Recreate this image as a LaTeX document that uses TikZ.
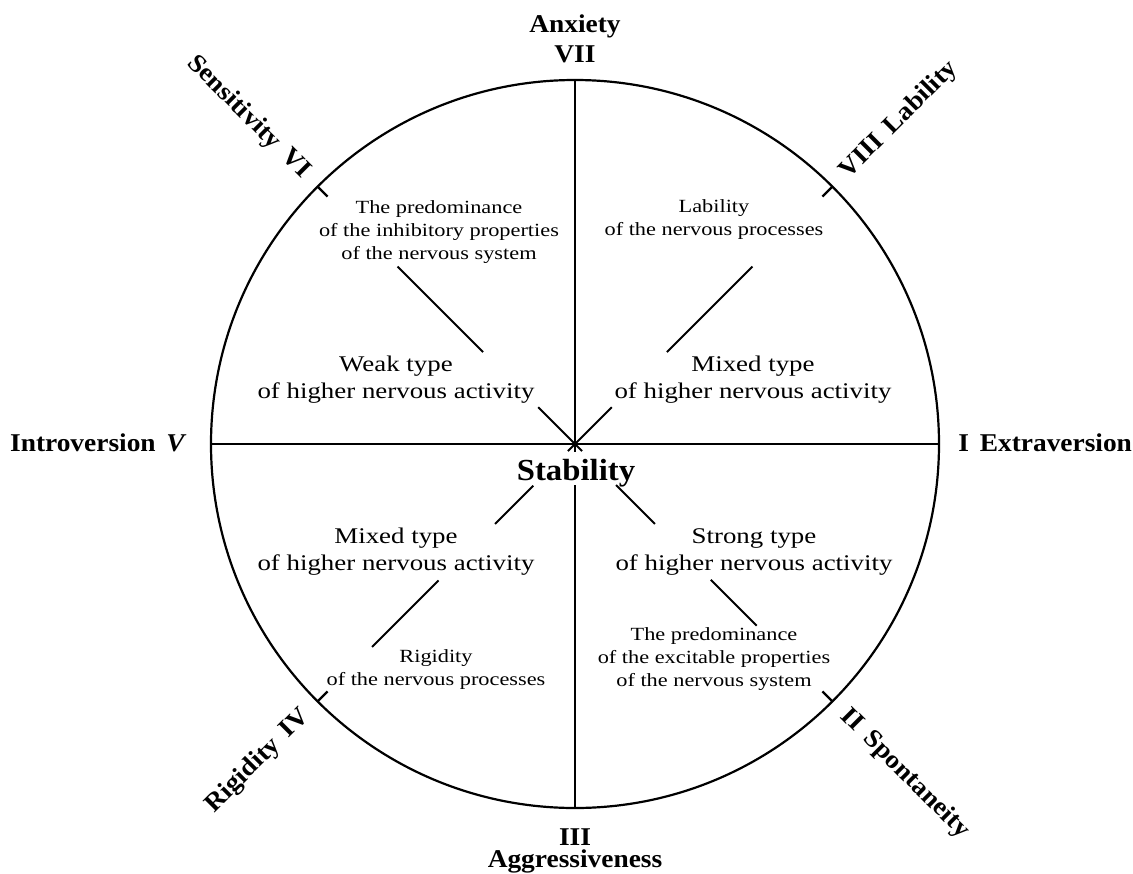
\documentclass[tikz,border=0pt]{standalone}
\usepackage{fontspec}
\setmainfont[FakeStretch=1.2]{Liberation Serif}
\newfontfamily\labelfont[FakeStretch=1.07]{Liberation Serif}
\usepackage{tikz}
\usetikzlibrary{positioning}

\newcommand{\gap}{\hspace{0.42em}}

\tikzset{
	axislbl/.style={font=\labelfont\bfseries\fontsize{12.8}{15}\selectfont, inner sep=0pt},
	bigtxt/.style={align=center, inner sep=0pt, font=\fontsize{11.2}{13.5}\selectfont},
	smalltxt/.style={align=center, inner sep=0pt, font=\fontsize{9.3}{11.5}\selectfont},
	ray/.style={line width=1pt}
}

\begin{document}
\begin{tikzpicture}[x=0.5pt, y=0.5pt]
					\useasboundingbox (-575,-429) rectangle (558,444);
					\coordinate (O) at (0, 0);
					
					\draw[line width=1.1pt] (O) circle (364);
					\draw[line width=1pt] (180:364) -- (0:364);
					\draw[line width=1pt] (90:364) -- (0,-8);
					\draw[line width=1pt] (0,-41) -- (270:364);
					
					% ticks
					\foreach \a in {45, 135, 225, 315}
						\draw[line width=1.1pt] (\a:364) -- (\a:350);
					
					\node[axislbl, anchor=base] (anxiety) at (0, 411) {Anxiety};
					\node[axislbl, anchor=base] (seven) at (0, 381) {VII};
					\node[axislbl, anchor=base] (three) at (0, -401) {III};
					\node[axislbl, anchor=base] (aggr) at (0, -423) {Aggressiveness};
					\node[axislbl, anchor=base east] (intro) at (-388, -7) {Introversion\gap\textit{V}};
					\node[axislbl, anchor=base west] (extra) at (383, -7) {I\gap Extraversion};
					
					\node[axislbl, rotate=45, anchor=west] (labil) at (45:380) {VIII\gap Lability};
					\node[axislbl, rotate=-45, anchor=east] (sens) at (135:380) {Sensitivity\gap VI};
					\node[axislbl, rotate=45, anchor=east] (rigid) at (225:380) {Rigidity\gap IV};
					\node[axislbl, rotate=-45, anchor=west] (spont) at (-45:380) {II\gap Spontaneity};
					
					\node[smalltxt] (predinh) at (-136, 212) {The predominance\\of the inhibitory properties\\of the nervous system};
					\node[bigtxt] (weak) at (-179, 64) {Weak type\\of higher nervous activity};
					\node[smalltxt] (labproc) at (139, 224) {Lability\\of the nervous processes};
					\node[bigtxt] (mixedup) at (178, 64) {Mixed type\\of higher nervous activity};
					\node[bigtxt] (mixedlow) at (-179, -108) {Mixed type\\of higher nervous activity};
					\node[smalltxt] (rigproc) at (-139, -226) {Rigidity\\of the nervous processes};
					\node[bigtxt] (strong) at (179, -108) {Strong type\\of higher nervous activity};
					\node[smalltxt] (predexc) at (139, -215) {The predominance\\of the excitable properties\\of the nervous system};
					
					\node[font=\labelfont\bfseries\fontsize{15.3}{18}\selectfont, inner sep=0pt, anchor=base] (stab) at (1, -36) {Stability};
					
					\coordinate (ul1) at (135:130);  \coordinate (ul2) at (135:251);
					\coordinate (ul3) at (135:52);   \coordinate (ul4) at (-45:10);
					\coordinate (ur1) at (45:130);   \coordinate (ur2) at (45:251);
					\coordinate (ur3) at (45:52);    \coordinate (ur4) at (225:10);
					\coordinate (ll1) at (225:59);   \coordinate (ll2) at (225:113);
					\coordinate (ll3) at (225:193);  \coordinate (ll4) at (225:287);
					\coordinate (lr1) at (-45:58);   \coordinate (lr2) at (-45:113);
					\coordinate (lr3) at (-45:192);  \coordinate (lr4) at (-45:257);
					
					\draw[ray] (ul1) -- (ul2);
					\draw[ray] (ul3) -- (ul4);
					\draw[ray] (ur1) -- (ur2);
					\draw[ray] (ur3) -- (ur4);
					\draw[ray] (ll1) -- (ll2);
					\draw[ray] (ll3) -- (ll4);
					\draw[ray] (lr1) -- (lr2);
					\draw[ray] (lr3) -- (lr4);
\end{tikzpicture}
\end{document}
